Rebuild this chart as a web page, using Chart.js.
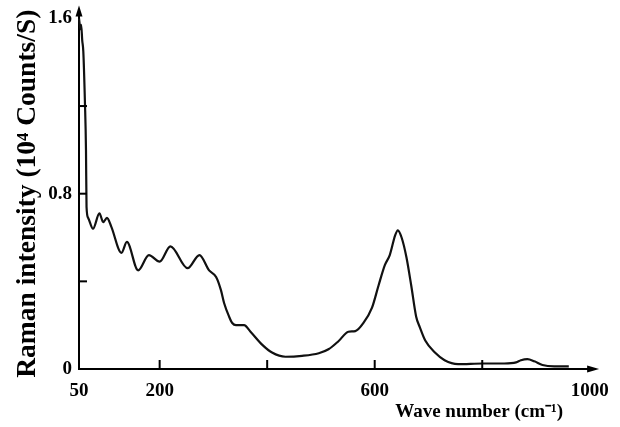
<!DOCTYPE html>
<html>
<head>
<meta charset="utf-8">
<script src="https://cdn.jsdelivr.net/npm/chart.js@4/dist/chart.umd.min.js"></script>
<style>
 html,body{margin:0;padding:0;background:#fff;}
 #wrap{width:620px;height:427px;}
</style>
</head>
<body>
<div id="wrap"><canvas id="raman"></canvas></div>
<script>
// spectrum
var waveNumber = [50, 53, 54, 56, 58, 61, 63, 64, 67, 76, 88, 95, 102, 110, 129, 139, 160, 180, 200, 220,
  252, 274, 292, 305, 314, 320, 329, 335, 342, 357, 369, 391, 409, 434, 465, 496, 514, 533, 551, 564,
  579, 595, 607, 619, 628, 638, 643, 650, 659, 668, 677, 684, 694, 712, 730, 755, 801, 841, 863, 872,
  884, 897, 912, 934, 961];
var intensity = [1.60, 1.55, 1.57, 1.50, 1.45, 1.22, 1.00, 0.74, 0.69, 0.64, 0.71, 0.67, 0.69, 0.65, 0.53, 0.58, 0.45, 0.52, 0.49, 0.56,
  0.46, 0.52, 0.45, 0.42, 0.36, 0.30, 0.24, 0.21, 0.20, 0.20, 0.17, 0.11, 0.075, 0.056, 0.06, 0.072, 0.09, 0.128, 0.17, 0.173,
  0.21, 0.28, 0.38, 0.475, 0.52, 0.61, 0.633, 0.60, 0.51, 0.38, 0.24, 0.19, 0.13, 0.075, 0.04, 0.022, 0.025, 0.025, 0.03, 0.04,
  0.045, 0.035, 0.018, 0.012, 0.012];

var xLabelTicks = [50, 200, 600, 1000];
var xMarkTicks = [200, 400, 600, 800];
var yLabelTicks = [0, 0.8, 1.6];
var yMarkTicks = [0.4, 0.8, 1.2];

var serif = '"Liberation Serif", "Times New Roman", serif';
Chart.defaults.font.family = serif;
Chart.defaults.font.weight = 'bold';
Chart.defaults.color = '#000';

var puntos = [];
for (var i = 0; i < waveNumber.length; i++) {
  puntos.push({x: waveNumber[i], y: intensity[i]});
}

// inward tick marks, arrow heads and the x title
var ejes = {
  id: 'ejes',
  afterDraw: function(chart) {
    var ctx = chart.ctx, a = chart.chartArea;
    var xs = chart.scales.x, ys = chart.scales.y;
    ctx.save();
    ctx.strokeStyle = '#000';
    ctx.fillStyle = '#000';
    ctx.lineWidth = 2;
    xMarkTicks.forEach(function(v) {
      var px = xs.getPixelForValue(v);
      ctx.beginPath(); ctx.moveTo(px, a.bottom); ctx.lineTo(px, a.bottom - 9); ctx.stroke();
    });
    yMarkTicks.forEach(function(v) {
      var py = ys.getPixelForValue(v);
      ctx.beginPath(); ctx.moveTo(a.left, py); ctx.lineTo(a.left + 8, py); ctx.stroke();
    });
    // y arrow
    ctx.beginPath(); ctx.moveTo(a.left, a.top); ctx.lineTo(a.left, a.top - 6); ctx.stroke();
    ctx.beginPath();
    ctx.moveTo(a.left, a.top - 13);
    ctx.lineTo(a.left - 3.5, a.top - 2);
    ctx.lineTo(a.left + 3.5, a.top - 2);
    ctx.closePath(); ctx.fill();
    // x arrow
    ctx.beginPath();
    ctx.moveTo(a.right + 4, a.bottom);
    ctx.lineTo(a.right - 8, a.bottom - 3.5);
    ctx.lineTo(a.right - 8, a.bottom + 3.5);
    ctx.closePath(); ctx.fill();
    ctx.font = 'bold 19px ' + serif;
    ctx.textAlign = 'center';
    ctx.textBaseline = 'middle';
    ctx.fillText('Wave number (cm\u207B\u00B9)', a.right - 116, a.bottom + 43);
    ctx.restore();
  }
};

var ctx = document.getElementById('raman').getContext('2d');
var myChart = new Chart(ctx, {
  type: 'line',
  data: {
    datasets: [{
      label: 'Raman',
      data: puntos,
      borderColor: '#111',
      borderWidth: 2.2,
      pointRadius: 0,
      cubicInterpolationMode: 'monotone',
      fill: false,
      clip: false
    }]
  },
  options: {
    responsive: true,
    maintainAspectRatio: false,
    animation: false,
    layout: { padding: { top: 16, right: 22, left: 0, bottom: 0 } },
    plugins: {
      legend: { display: false },
      tooltip: { enabled: false }
    },
    scales: {
      x: {
        type: 'linear',
        min: 50,
        max: 1010,
        grid: { display: false, drawTicks: false },
        border: { display: true, color: '#000', width: 2 },
        afterBuildTicks: function(scale) {
          scale.ticks = xLabelTicks.map(function(v) { return {value: v}; });
        },
        afterFit: function(scale) { scale.height = 58; },
        ticks: {
          autoSkip: false,
          maxRotation: 0,
          padding: 11,
          font: { size: 19, weight: 'bold' },
          callback: function(v) { return String(v); }
        }
      },
      y: {
        min: 0,
        max: 1.6,
        grid: { display: false, drawTicks: false },
        border: { display: true, color: '#000', width: 2 },
        afterBuildTicks: function(scale) {
          scale.ticks = yLabelTicks.map(function(v) { return {value: v}; });
        },
        afterFit: function(scale) { scale.width = 79; },
        ticks: {
          padding: 7,
          font: { size: 19, weight: 'bold' },
          callback: function(v) { return v === 0 ? '0' : v.toFixed(1); }
        },
        title: {
          display: true,
          text: 'Raman intensity (10\u2074 Counts/S)',
          font: { size: 27.5, weight: 'bold' },
          padding: { top: 11, bottom: 0 }
        }
      }
    }
  },
  plugins: [ejes]
});
</script>
</body>
</html>
